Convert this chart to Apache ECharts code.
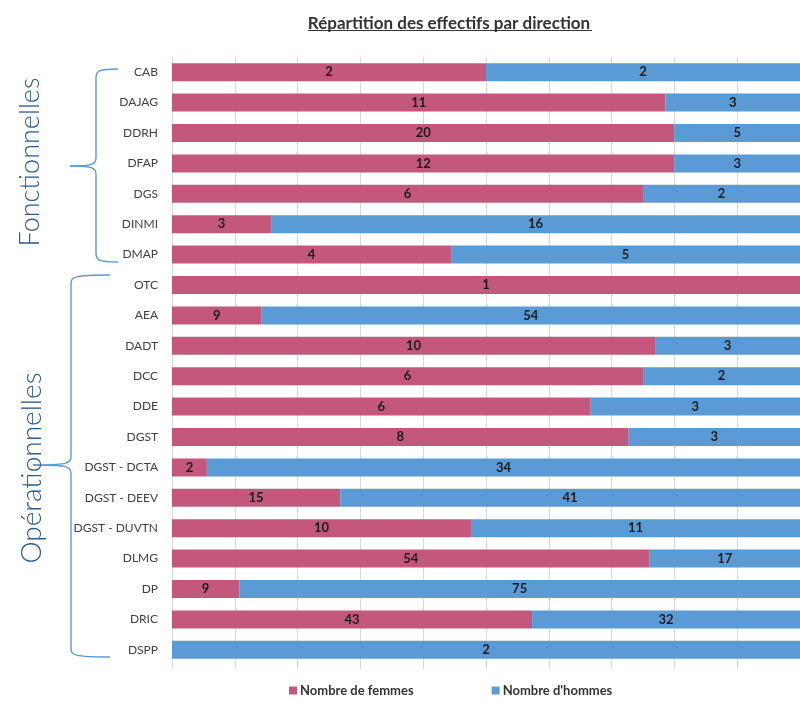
<!DOCTYPE html>
<html>
<head>
<meta charset="utf-8">
<script src="https://cdn.jsdelivr.net/npm/echarts@6/dist/echarts.min.js"></script>
<style>
  html, body { margin: 0; padding: 0; background: #fff; }
  #chart { width: 800px; height: 702px; }
</style>
</head>
<body>
<div id="chart"></div>
<script>
// directions, de haut en bas
const directions = ['CAB', 'DAJAG', 'DDRH', 'DFAP', 'DGS', 'DINMI', 'DMAP',
  'OTC', 'AEA', 'DADT', 'DCC', 'DDE', 'DGST', 'DGST - DCTA', 'DGST - DEEV',
  'DGST - DUVTN', 'DLMG', 'DP', 'DRIC', 'DSPP'];
const femmes = [2, 11, 20, 12, 6, 3, 4, 1, 9, 10, 6, 6, 8, 2, 15, 10, 54, 9, 43, 0];
const hommes = [2, 3, 5, 3, 2, 16, 5, 0, 54, 3, 2, 3, 3, 34, 41, 11, 17, 75, 32, 2];
const seriesNames = ['Nombre de femmes', "Nombre d'hommes"];

const PINK = '#c4587c';
const BLUE = '#5b9bd5';
const BRACE = '#5b9bd5';
const FONT = 'Lato, "Open Sans", sans-serif';

// part en % de chaque segment (barres empilées à 100 %)
const pct = (arr, i) => {
  const tot = femmes[i] + hommes[i];
  return tot ? arr[i] / tot * 100 : 0;
};
const femmesPct = femmes.map((v, i) => pct(femmes, i));
const hommesPct = hommes.map((v, i) => pct(hommes, i));

// accolade verticale : extrémités à droite, pointe à gauche
function brace(xEnd, xV, xTip, yTop, yMid, yBot) {
  const st = { stroke: BRACE, lineWidth: 1.4, fill: null };
  return [
    { type: 'bezierCurve', shape: { x1: xEnd, y1: yTop, cpx1: xV + 2, cpy1: yTop, cpx2: xV, cpy2: yTop + 2, x2: xV, y2: yTop + 9 }, style: st },
    { type: 'line', shape: { x1: xV, y1: yTop + 9, x2: xV, y2: yMid - 8 }, style: st },
    { type: 'bezierCurve', shape: { x1: xV, y1: yMid - 8, cpx1: xV, cpy1: yMid - 1, cpx2: xV - 6, cpy2: yMid, x2: xTip, y2: yMid }, style: st },
    { type: 'bezierCurve', shape: { x1: xTip, y1: yMid, cpx1: xV - 6, cpy1: yMid, cpx2: xV, cpy2: yMid + 1, x2: xV, y2: yMid + 8 }, style: st },
    { type: 'line', shape: { x1: xV, y1: yMid + 8, x2: xV, y2: yBot - 9 }, style: st },
    { type: 'bezierCurve', shape: { x1: xV, y1: yBot - 9, cpx1: xV, cpy1: yBot - 2, cpx2: xV + 2, cpy2: yBot, x2: xEnd, y2: yBot }, style: st },
  ];
}

const myChart = echarts.init(document.getElementById('chart'));

const labelOf = (arr) => ({
  show: true,
  position: 'inside',
  color: '#1a1a1a',
  fontWeight: 'bold',
  fontSize: 13,
  fontFamily: FONT,
  formatter: (p) => (arr[p.dataIndex] > 0 ? String(arr[p.dataIndex]) : ''),
});

myChart.setOption({
  backgroundColor: '#fff',
  animation: false,
  title: {
    text: 'Répartition des effectifs par direction',
    left: 444,
    top: 10,
    textAlign: 'center',
    textStyle: {
      fontFamily: FONT,
      fontSize: 17,
      fontWeight: 'bold',
      color: '#333',
    },
  },
  legend: {
    data: seriesNames,
    left: 284,
    bottom: 0,
    itemWidth: 8,
    itemHeight: 8,
    itemGap: 78,
    icon: 'rect',
    textStyle: {
      fontFamily: FONT,
      fontSize: 13,
      fontWeight: 'bold',
      color: '#333',
      padding: [0, 0, 0, -2],
    },
  },
  grid: {
    left: 172,
    right: -2,
    top: 57,
    bottom: 37,
  },
  xAxis: {
    type: 'value',
    min: 0,
    max: 100,
    interval: 10,
    axisLabel: { show: false },
    axisLine: { show: false },
    axisTick: { show: true, length: 4, lineStyle: { color: '#d9d9d9' } },
    splitLine: { lineStyle: { color: '#d9d9d9', width: 1 } },
  },
  yAxis: {
    type: 'category',
    inverse: true,
    data: directions,
    axisLine: { lineStyle: { color: '#d9d9d9' } },
    axisTick: { show: false },
    axisLabel: {
      margin: 14,
      color: '#404040',
      fontSize: 12,
      fontFamily: FONT,
    },
  },
  series: [
    {
      name: seriesNames[0],
      type: 'bar',
      stack: 'total',
      barWidth: 18,
      itemStyle: { color: PINK },
      label: labelOf(femmes),
      data: femmesPct,
    },
    {
      name: seriesNames[1],
      type: 'bar',
      stack: 'total',
      barWidth: 18,
      itemStyle: { color: BLUE },
      label: labelOf(hommes),
      data: hommesPct,
    },
  ],
  graphic: [
    // soulignement du titre
    { type: 'line', shape: { x1: 308, y1: 30.5, x2: 592, y2: 30.5 }, style: { stroke: '#333', lineWidth: 1.2 } },
    ...brace(118, 96, 70, 69, 166, 262),
    ...brace(110, 71, 33, 275, 465, 657),
    {
      type: 'text',
      x: 30,
      y: 162,
      rotation: Math.PI / 2,
      style: {
        text: 'Fonctionnelles',
        fill: '#2a5b8c',
        font: '300 27px ' + FONT,
        textAlign: 'center',
        textVerticalAlign: 'middle',
      },
    },
    {
      type: 'text',
      x: 32,
      y: 468,
      rotation: Math.PI / 2,
      style: {
        text: 'Opérationnelles',
        fill: '#2a5b8c',
        font: '300 28px ' + FONT,
        textAlign: 'center',
        textVerticalAlign: 'middle',
      },
    },
  ],
});
</script>
</body>
</html>
